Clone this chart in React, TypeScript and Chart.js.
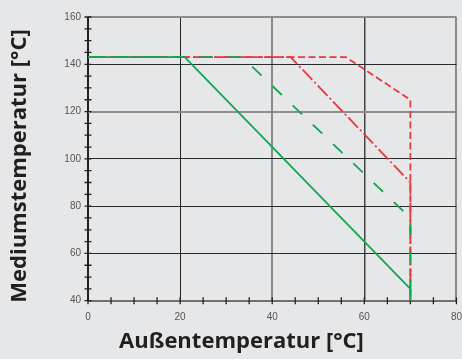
import { useEffect, useRef } from 'react';
import { Chart, registerables } from 'chart.js';

Chart.register(...registerables);

// Axis ticks
const xTickValues = [0, 20, 40, 60, 80];
const yTickValues = [40, 60, 80, 100, 120, 140, 160];
const minorStep = 5;

// Series (x = Außentemperatur, y = Mediumstemperatur)
const greenSolidX = [0, 21, 70, 70];
const greenSolidY = [143, 143, 45, 40];
const greenDashedX = [0, 33.5, 70, 70];
const greenDashedY = [143, 143, 75, 40];
const redDashDotX = [0, 44, 70, 70];
const redDashDotY = [143, 143, 90, 40];
const redDashedX = [0, 56, 70, 70];
const redDashedY = [143, 143, 125, 40];

const xTitle = 'Außentemperatur [°C]';
const yTitle = 'Mediumstemperatur [°C]';

const GREEN = '#12a650';
const RED = '#e8373d';

function pts(xs: number[], ys: number[]) {
  return xs.map((x, i) => ({ x, y: ys[i] }));
}

const minorTicks = {
  id: 'minorTicks',
  beforeDatasetsDraw(chart: any) {
    const { ctx } = chart;
    const xs = chart.scales.x;
    const ys = chart.scales.y;
    const x0 = xs.getPixelForValue(xs.min);
    const y0 = ys.getPixelForValue(ys.min);
    ctx.save();
    ctx.strokeStyle = '#222';
    ctx.lineWidth = 1.3;
    ctx.beginPath();
    for (let v = ys.min; v <= ys.max; v += minorStep) {
      const y = ys.getPixelForValue(v);
      ctx.moveTo(x0 - 3.5, y);
      ctx.lineTo(x0 + 3.5, y);
    }
    for (let v = xs.min; v <= xs.max; v += minorStep) {
      const x = xs.getPixelForValue(v);
      ctx.moveTo(x, y0 - 3.5);
      ctx.lineTo(x, y0 + 3.5);
    }
    ctx.stroke();
    ctx.restore();
  },
};

const axisTitles = {
  id: 'axisTitles',
  afterDraw(chart: any) {
    const { ctx } = chart;
    ctx.save();
    ctx.fillStyle = '#231f20';
    ctx.font = 'bold 22px "Open Sans"';
    ctx.textAlign = 'center';
    ctx.textBaseline = 'middle';
    ctx.fillText(xTitle, 241.5, 342);
    ctx.translate(20, 166);
    ctx.rotate(-Math.PI / 2);
    ctx.fillText(yTitle, 0, 0);
    ctx.restore();
  },
};

function yGridColor(v: number) {
  if (v === 120 || v === 160) return '#8e8e8e';
  if (v === 40) return '#707070';
  return '#2a2a2a';
}
function yGridWidth(v: number) {
  if (v === 120 || v === 160 || v === 40) return 2;
  return 1;
}
function xGridColor(v: number) {
  if (v === 40 || v === 80) return '#8a8a8a';
  if (v === 60) return '#444';
  return '#222';
}
function xGridWidth(v: number) {
  if (v === 40 || v === 80 || v === 0) return 2;
  if (v === 60) return 1.5;
  return 1;
}

export default function App() {
  const ref = useRef<HTMLCanvasElement | null>(null);

  useEffect(() => {
    if (!ref.current) return;
    const chart = new Chart(ref.current, {
      type: 'line',
      data: {
        datasets: [
          {
            data: pts(greenSolidX, greenSolidY),
            borderColor: GREEN,
            borderWidth: 1.8,
            pointRadius: 0,
          },
          {
            data: pts(greenDashedX, greenDashedY),
            borderColor: GREEN,
            borderWidth: 1.8,
            borderDash: [13, 15],
            pointRadius: 0,
          },
          {
            data: pts(redDashDotX, redDashDotY),
            borderColor: RED,
            borderWidth: 1.8,
            borderDash: [14, 3, 2, 3],
            pointRadius: 0,
          },
          {
            data: pts(redDashedX, redDashedY),
            borderColor: RED,
            borderWidth: 1.8,
            borderDash: [7, 3.5],
            pointRadius: 0,
          },
        ],
      },
      options: {
        animation: false,
        responsive: false,
        devicePixelRatio: 1,
        layout: { padding: { left: 0, top: 17, right: 4.5, bottom: 0 } },
        plugins: {
          legend: { display: false },
          tooltip: { enabled: false },
        },
        elements: { line: { tension: 0, fill: false } },
        scales: {
          x: {
            type: 'linear',
            min: 0,
            max: 80,
            afterBuildTicks: (s: any) => {
              s.ticks = xTickValues.map((v) => ({ value: v }));
            },
            afterFit: (s: any) => {
              s.height = 58.3;
            },
            border: { display: false },
            grid: {
              drawTicks: true,
              tickLength: 11,
              tickColor: 'rgba(0,0,0,0)',
              color: (c: any) => xGridColor(c.tick ? c.tick.value : 0),
              lineWidth: (c: any) => xGridWidth(c.tick ? c.tick.value : 0),
            },
            ticks: {
              padding: 0,
              color: '#555',
              font: { family: '"Liberation Sans", Arial', size: 10 },
              maxRotation: 0,
            },
          },
          y: {
            type: 'linear',
            min: 40,
            max: 160,
            afterBuildTicks: (s: any) => {
              s.ticks = yTickValues.map((v) => ({ value: v }));
            },
            afterFit: (s: any) => {
              s.width = 88;
            },
            border: { display: false },
            grid: {
              drawTicks: false,
              color: (c: any) => yGridColor(c.tick ? c.tick.value : 0),
              lineWidth: (c: any) => yGridWidth(c.tick ? c.tick.value : 0),
            },
            ticks: {
              padding: 7,
              color: '#555',
              font: { family: '"Liberation Sans", Arial', size: 10 },
            },
          },
        },
      },
      plugins: [minorTicks, axisTitles],
    });
    return () => chart.destroy();
  }, []);

  return (
    <div
      style={{
        position: 'fixed',
        left: 0,
        top: 0,
        width: 462,
        height: 359,
        background: '#e6e7e9',
      }}
    >
      <canvas ref={ref} width={462} height={359} style={{ display: 'block' }} />
    </div>
  );
}
